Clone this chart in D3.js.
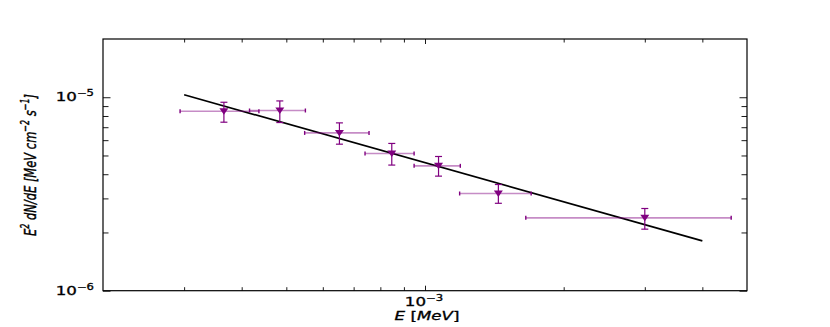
<!DOCTYPE html>
<html>
<head>
<meta charset="utf-8">
<script src="https://cdn.jsdelivr.net/npm/d3@7"></script>
<style>
  body { margin: 0; background: #fff; }
  text { font-family: "DejaVu Sans", sans-serif; fill: #000; stroke: #000; stroke-width: 0.3; }
</style>
</head>
<body>
<svg id="chart"></svg>
<script>
// SED points (MeV), E^2 dN/dE values with errors
const energy   = [3.66e-4, 4.84e-4, 6.52e-4, 8.47e-4, 1.07e-3, 1.443e-3, 3.0e-3];
const energyLo = [2.94e-4, 4.16e-4, 5.48e-4, 7.41e-4, 9.47e-4, 1.189e-3, 1.655e-3];
const energyHi = [4.36e-4, 5.50e-4, 7.56e-4, 9.47e-4, 1.193e-3, 1.70e-3, 4.62e-3];
const flux     = [8.47e-6, 8.54e-6, 6.54e-6, 5.12e-6, 4.42e-6, 3.18e-6, 2.38e-6];
const fluxLo   = [7.43e-6, 7.40e-6, 5.72e-6, 4.46e-6, 3.91e-6, 2.83e-6, 2.08e-6];
const fluxHi   = [9.42e-6, 9.57e-6, 7.37e-6, 5.77e-6, 4.94e-6, 3.54e-6, 2.66e-6];
// power-law fit endpoints
const fitE = [3e-4, 4e-3];
const fitF = [1.03e-5, 1.81e-6];
// tick labels
const xMajor = [{v: 1e-3, base: '10', exp: '\u22123'}];
const yMajor = [{v: 1e-6, base: '10', exp: '\u22126'}, {v: 1e-5, base: '10', exp: '\u22125'}];
const xMinor = [3e-4, 4e-4, 5e-4, 6e-4, 7e-4, 8e-4, 9e-4, 2e-3, 3e-3, 4e-3];
const yMinor = [2e-6, 3e-6, 4e-6, 5e-6, 6e-6, 7e-6, 8e-6, 9e-6];

const W = 830, H = 327;
const mL = 103, mR = 747, mT = 39, mB = 290.7;
const sx = 1.45; // horizontal stretch of the text

const svg = d3.select('#chart').attr('width', W).attr('height', H);

const x = d3.scaleLog().domain([2e-4, 5e-3]).range([mL, mR]);
const y = d3.scaleLog().domain([1e-6, 2e-5]).range([mB, mT]);

const purple = '#800080';

// ticks, pointing inward on all four sides
const tick = (axis, vals, size, tr) => {
    const g = svg.append('g').attr('transform', tr)
        .call(axis.tickValues(vals).tickSize(size).tickFormat(''));
    g.select('.domain').remove();
    g.selectAll('line').attr('stroke', '#000').attr('stroke-width', 0.9);
};
tick(d3.axisBottom(x), xMinor, -3.5, `translate(0,${mB})`);
tick(d3.axisBottom(x), xMajor.map(d => d.v), -5, `translate(0,${mB})`);
tick(d3.axisTop(x), xMinor, -3.5, `translate(0,${mT})`);
tick(d3.axisTop(x), xMajor.map(d => d.v), -5, `translate(0,${mT})`);
tick(d3.axisLeft(y), yMinor, -5.5, `translate(${mL},0)`);
tick(d3.axisLeft(y), yMajor.map(d => d.v), -7.5, `translate(${mL},0)`);
tick(d3.axisRight(y), yMinor, -5.5, `translate(${mR},0)`);
tick(d3.axisRight(y), yMajor.map(d => d.v), -7.5, `translate(${mR},0)`);

svg.append('rect')
    .attr('x', mL).attr('y', mT)
    .attr('width', mR - mL).attr('height', mB - mT)
    .attr('fill', 'none').attr('stroke', '#000').attr('stroke-width', 1.2);

// power text helper (stretched horizontally)
const powText = (px, py, d, anchor) => {
    const t = svg.append('text')
        .attr('transform', `translate(${px},${py}) scale(${sx},1)`)
        .attr('text-anchor', anchor)
        .attr('font-size', 11.5);
    t.append('tspan').text(d.base);
    t.append('tspan').attr('dy', -5).attr('font-size', 8).text(d.exp);
};
yMajor.forEach(d => powText(94, y(d.v) + 4, d, 'end'));
xMajor.forEach(d => powText(x(d.v) - 1, 305.5, d, 'middle'));

// axis titles
const xt = svg.append('text')
    .attr('transform', `translate(${(mL + mR) / 2 + 2},319.5) scale(${sx},1)`)
    .attr('text-anchor', 'middle').attr('font-size', 11.5);
xt.append('tspan').attr('font-style', 'italic').text('E');
xt.append('tspan').text(' [');
xt.append('tspan').attr('font-style', 'italic').text('MeV');
xt.append('tspan').text(']');

const yt = svg.append('text')
    .attr('transform', `translate(35.5,165) scale(${sx},1) rotate(-90)`)
    .attr('text-anchor', 'middle').attr('font-size', 11.5)
    .attr('font-style', 'italic');
yt.append('tspan').text('E');
yt.append('tspan').attr('dy', -4.5).attr('font-size', 8).text('2');
yt.append('tspan').attr('dy', 4.5).text(' dN/dE [MeV cm');
yt.append('tspan').attr('dy', -4.5).attr('font-size', 8).text('\u22122');
yt.append('tspan').attr('dy', 4.5).text(' s');
yt.append('tspan').attr('dy', -4.5).attr('font-size', 8).text('\u22121');
yt.append('tspan').attr('dy', 4.5).text(']');

// fit line
const fit = fitE.map((e, i) => [e, fitF[i]]);
svg.append('path')
    .attr('d', d3.line().x(d => x(d[0])).y(d => y(d[1]))(fit))
    .attr('fill', 'none').attr('stroke', '#000').attr('stroke-width', 1.7);

// data points
const pts = energy.map((e, i) => ({e, lo: energyLo[i], hi: energyHi[i], f: flux[i], fl: fluxLo[i], fh: fluxHi[i]}));
const g = svg.append('g').selectAll('g').data(pts).enter().append('g');

g.append('line')
    .attr('x1', d => x(d.lo)).attr('x2', d => x(d.hi))
    .attr('y1', d => y(d.f)).attr('y2', d => y(d.f))
    .attr('stroke', purple).attr('stroke-opacity', 0.45).attr('stroke-width', 1.6);
['lo', 'hi'].forEach(k => {
    g.append('line')
        .attr('x1', d => x(d[k])).attr('x2', d => x(d[k]))
        .attr('y1', d => y(d.f) - 2).attr('y2', d => y(d.f) + 2)
        .attr('stroke', purple).attr('stroke-width', 1.4);
});
g.append('line')
    .attr('x1', d => x(d.e)).attr('x2', d => x(d.e))
    .attr('y1', d => y(d.fl)).attr('y2', d => y(d.fh))
    .attr('stroke', purple).attr('stroke-width', 1.2);
['fl', 'fh'].forEach(k => {
    g.append('line')
        .attr('x1', d => x(d.e) - 3.5).attr('x2', d => x(d.e) + 3.5)
        .attr('y1', d => y(d[k])).attr('y2', d => y(d[k]))
        .attr('stroke', purple).attr('stroke-width', 1.2);
});
g.append('path')
    .attr('transform', d => `translate(${x(d.e)},${y(d.f)})`)
    .attr('d', 'M-4.5,-3L4.5,-3L0,3.5Z')
    .attr('fill', purple);
</script>
</body>
</html>
